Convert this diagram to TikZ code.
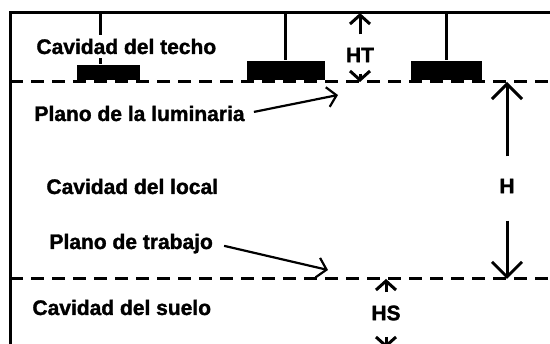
\documentclass[tikz,border=0pt]{standalone}
\usepackage{fontspec}
\setmainfont{Liberation Sans}
\newfontfamily\heavy[FakeBold=1.5]{Liberation Sans Bold}
\usetikzlibrary{arrows.meta}

\begin{document}
\begin{tikzpicture}[x=1pt,y=-1pt,line width=3pt,
  >={Straight Barb[length=9pt,width=20pt]},
  big/.style={-{Straight Barb[length=15pt,width=30pt]}},
  txt/.style={font=\fontsize{21}{24}\selectfont\heavy,inner sep=0pt,anchor=base west},
  dim/.style={font=\fontsize{21}{24}\selectfont\heavy,inner sep=0pt},
  lamp/.style={fill=black,inner sep=0pt,anchor=south west},
  cut/.style={dash pattern=on 13pt off 8pt},
  pointer/.style={->,line width=2.2pt}]

  \clip (0,0) rectangle (550,344);

  \coordinate (top) at (10,13);
  \coordinate (lum) at (10,82);
  \coordinate (work) at (10,279);

  % frame and planes
  \draw (550,13) -- (top) -- (10,344);
  \draw[cut] (lum) -- (550,82);
  \draw[cut] (work) -- (550,279);

  % luminaires
  \node[lamp,minimum width=63pt,minimum height=15pt] (lamp1) at (75,82) {};
  \node[lamp,minimum width=78pt,minimum height=19pt] (lamp2) at (245,82) {};
  \node[lamp,minimum width=71pt,minimum height=19pt] (lamp3) at (409,82) {};
  \draw ([xshift=25pt]lamp1.north west) -- ([xshift=25pt]lamp1.north west |- top);
  \draw (lamp2.north) -- (lamp2.north |- top);
  \draw (lamp3.north) -- (lamp3.north |- top);

  % texts
  \node[txt,fill=white,inner ysep=4pt] (cavtecho) at (35,54) {Cavidad del techo};
  \node[txt] (planolum) at (33,121) {Plano de la luminaria};
  \node[txt] (cavlocal) at (45,194) {Cavidad del local};
  \node[txt] (planotrab) at (48,249) {Plano de trabajo};
  \node[txt] (cavsuelo) at (31,315) {Cavidad del suelo};

  \node[dim] (ht) at (360,55) {HT};
  \node[dim] (h) at (507,186) {H};
  \node[dim] (hs) at (386,313) {HS};

  \coordinate (plum) at (338,95);
  \coordinate (ptrab) at (328,270);
  \coordinate (hsend) at (386,348);

  % pointers
  \draw[pointer,shorten <=8pt] (planolum.east) -- (plum);
  \draw[pointer,shorten <=10pt] (planotrab.east) -- (ptrab);

  % heights
  \draw[->,shorten <=12pt] (ht.north) -- (ht.north |- top);
  \draw[->,shorten <=10pt] (ht.south) -- (ht.south |- lum);
  \draw[big,shorten <=21pt] (h.north) -- (h.north |- lum);
  \draw[big,shorten <=26pt] (h.south) -- (h.south |- work);
  \draw[->,shorten <=12pt] (hs.north) -- (hs.north |- work);
  \draw[->,shorten <=15pt] (hs.south) -- (hsend);
\end{tikzpicture}
\end{document}
